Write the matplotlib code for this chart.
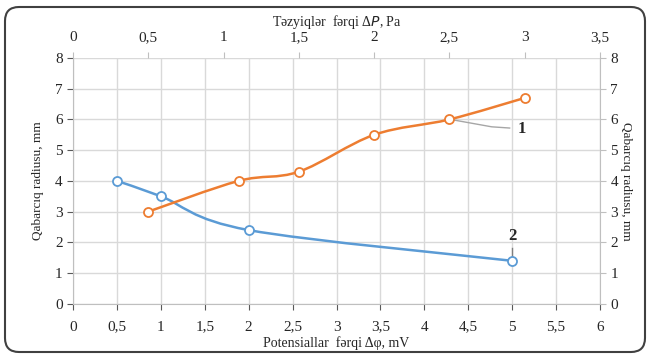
import numpy as np
from matplotlib import pyplot as plt
from matplotlib.path import Path
from matplotlib.patches import PathPatch, FancyBboxPatch
from matplotlib.ticker import FuncFormatter, MultipleLocator

# dati letti dal grafico
# serie 2 (asse inferiore, potenziale)
fi_x = [0.5, 1.0, 2.0, 5.0]
fi_r = [4.0, 3.5, 2.4, 1.4]
# serie 1 (asse superiore, pressione)
p_x = [0.5, 1.1, 1.5, 2.0, 2.5, 3.0]
p_r = [3.0, 4.0, 4.3, 5.5, 6.0, 6.7]

blu = "#5B9BD5"
arancio = "#ED7D31"
grigio = "#595959"

plt.rcParams['font.family'] = ['Liberation Serif', 'DejaVu Serif']
plt.rcParams['font.size'] = 11

def virgola(v, pos):
    s = "{:g}".format(v)
    return s.replace(".", ",")

#curva liscia tipo excel (bezier catmull-rom)
def curva(ax, x, y, colore):
    pts = np.column_stack([x, y])
    n = len(pts)
    verts = [pts[0]]
    codes = [Path.MOVETO]
    for i in range(n - 1):
        p0 = pts[i - 1] if i > 0 else pts[i]
        p1 = pts[i]
        p2 = pts[i + 1]
        p3 = pts[i + 2] if i + 2 < n else pts[i + 1]
        c1 = p1 + (p2 - p0) / 6
        c2 = p2 - (p3 - p1) / 6
        verts += [c1, c2, p2]
        codes += [Path.CURVE4] * 3
    ax.add_patch(PathPatch(Path(verts, codes), fill=False, edgecolor=colore, lw=1.8, zorder=3))
    ax.plot(x, y, 'o', ms=6.5, mfc='white', mec=colore, mew=1.3, zorder=4, clip_on=False)

fig = plt.figure(figsize=(6.49, 3.6), dpi=100)
ax = fig.add_axes([0.1125, 0.156, 0.812, 0.683])

ax.set_xlim(0, 6)
ax.set_ylim(0, 8)
ax.xaxis.set_major_locator(MultipleLocator(0.5))
ax.yaxis.set_major_locator(MultipleLocator(1))
ax.xaxis.set_major_formatter(FuncFormatter(virgola))
ax.grid(True, color="#d9d9d9", lw=1.0)
ax.set_axisbelow(True)
for s in ax.spines.values():
    s.set_color("#bfbfbf")
ax.spines['top'].set_visible(False)
ax.spines['right'].set_visible(False)
ax.tick_params(colors=grigio, labelcolor="#262626", length=4, labelsize=11)
ax.tick_params(axis='x', pad=8)
ax.set_xlabel("Potensiallar  fərqi Δφ, mV", fontsize=10, color="#262626", labelpad=2)
ax.set_ylabel("Qabarcıq radiusu, mm", fontsize=9.5, color="#262626", labelpad=8)

curva(ax, fi_x, fi_r, blu)

# asse superiore
ax_top = ax.twiny()
ax_top.set_xlim(0, 3.5)
ax_top.set_ylim(0, 8)
ax_top.xaxis.set_major_locator(MultipleLocator(0.5))
ax_top.xaxis.set_major_formatter(FuncFormatter(virgola))
for s in ax_top.spines.values():
    s.set_visible(False)
ax_top.tick_params(colors="#bfbfbf", labelcolor="#262626", length=4, labelsize=11, pad=6)
ax_top.set_xlabel("Təzyiqlər  fərqi Δ$\\it{P}$, Pa", fontsize=10, color="#262626", labelpad=4)

curva(ax_top, p_x, p_r, arancio)

# asse destro
ax_r = ax.twinx()
ax_r.set_ylim(0, 8)
ax_r.yaxis.set_major_locator(MultipleLocator(1))
for s in ax_r.spines.values():
    s.set_visible(False)
ax_r.spines['right'].set_visible(True)
ax_r.spines['right'].set_color("#bfbfbf")
ax_r.tick_params(colors="#bfbfbf", labelcolor="#262626", length=4, labelsize=11)
ax_r.set_ylabel("Qabarcıq radiusu, mm", fontsize=9.5, color="#262626", rotation=-90, labelpad=10)

# etichette delle curve
ax_top.plot([2.53, 2.78, 2.9], [5.98, 5.76, 5.72], color="#a6a6a6", lw=1.0, zorder=2)
ax_top.text(2.95, 5.68, "1", fontsize=12, fontweight='bold', color="#262626", va='center', ha='left')
ax.plot([5.0, 5.0], [1.83, 1.55], color="#7f7f7f", lw=1.0, zorder=2)
ax.text(5.0, 2.2, "2", fontsize=12, fontweight='bold', color="#262626", va='center', ha='center')

# cornice
fig.patches.append(FancyBboxPatch((5, 8), 640, 345, boxstyle="round,pad=0,rounding_size=14",
                                  transform=None, fill=False, edgecolor="#404040", lw=1.5))

plt.savefig('out.png', dpi=100)
